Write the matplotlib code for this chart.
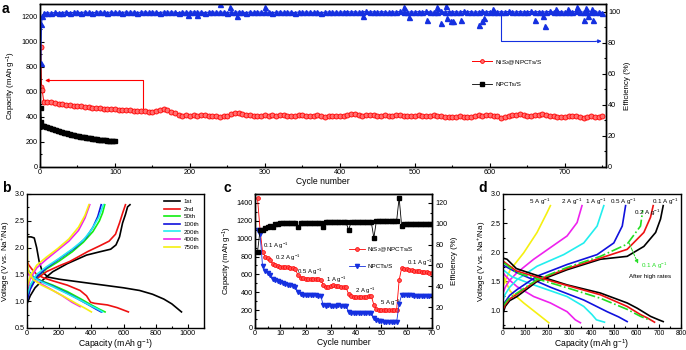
import numpy as np
import matplotlib
matplotlib.use("Agg")
import matplotlib.pyplot as plt
from matplotlib.ticker import MultipleLocator

plt.rcParams['font.family'] = ['Liberation Sans', 'DejaVu Sans']
plt.rcParams['mathtext.default'] = 'regular'
plt.rcParams['axes.linewidth'] = 1.0

# ---------------- panel a data ----------------
a_red_first_cyc = [1, 2, 3]
a_red_first_cap = [956, 638, 612]
a_red_cyc = list(range(5, 751, 5))
a_red_cap = [520, 522, 515, 512, 505, 500, 497, 493, 490, 486,
             484, 480, 478, 474, 470, 468, 466, 464, 462, 460,
             458, 455, 457, 452, 450, 448, 446, 444, 440, 442,
             448, 456, 462, 452, 440, 428, 415, 408, 412, 410,
             414, 408, 412, 418, 410, 405, 408, 400, 406, 410,
             420, 428, 432, 426, 418, 412, 408, 405, 410, 412,
             410, 414, 408, 412, 416, 410, 406, 410, 414, 412,
             408, 404, 410, 412, 406, 402, 408, 410, 404, 406,
             410, 418, 424, 420, 414, 410, 412, 416, 412, 408,
             410, 414, 410, 406, 412, 415, 410, 408, 404, 410,
             412, 408, 404, 410, 414, 410, 406, 402, 398, 396,
             400, 404, 400, 396, 402, 408, 412, 410, 416, 414,
             410, 406, 392, 400, 408, 412, 416, 420, 414, 410,
             408, 412, 418, 420, 416, 410, 406, 402, 396, 400,
             404, 410, 406, 398, 394, 400, 406, 402, 398, 404]

a_blk_cyc = [1, 2, 3, 4] + list(range(6, 101, 2))
a_blk_cap = [470, 360, 330, 328,
             325, 322, 318, 314, 310, 306, 302, 298, 294, 290,
             286, 282, 278, 275, 271, 268, 265, 262, 259, 256,
             253, 250, 248, 245, 243, 240, 238, 236, 234, 232,
             230, 228, 226, 224, 222, 221, 219, 217, 216, 214,
             213, 212, 210, 209, 208, 207, 206, 205]

a_eff_first_cyc = [1, 2, 3]
a_eff_first = [67, 92, 97]
a_eff_cyc = list(range(5, 751, 5))
a_eff = [99.2, 99.4, 99.1, 99.6, 99.3, 99.5, 99.8, 99.4, 99.6, 99.7,
         99.5, 99.8, 99.6, 99.4, 99.7, 99.9, 99.6, 99.5, 99.8, 99.6,
         99.7, 99.5, 99.9, 99.6, 99.8, 99.5, 99.7, 99.9, 99.6, 99.8,
         99.7, 99.5, 99.8, 99.6, 99.9, 99.7, 99.4, 99.8, 99.6, 99.7,
         99.9, 99.6, 99.8, 99.5, 99.7, 99.9, 99.6, 99.8, 99.7, 99.5,
         99.8, 99.6, 99.9, 99.7, 99.5, 99.8, 99.6, 99.9, 99.7, 99.6,
         99.8, 99.5, 99.7, 99.9, 99.6, 99.8, 99.7, 99.5, 99.8, 99.6,
         99.9, 99.7, 99.6, 99.8, 99.5, 99.7, 99.9, 99.6, 99.8, 99.7,
         99.9, 100.1, 99.8, 100.0, 99.7, 99.9, 100.2, 99.8, 100.0, 99.7,
         100.1, 99.9, 99.6, 100.0, 99.8, 100.2, 99.9, 99.7, 100.0, 99.8,
         100.1, 99.8, 100.2, 99.9, 99.7, 100.0, 100.2, 99.8, 100.1, 99.9,
         100.0, 99.8, 100.2, 99.9, 100.1, 99.7, 100.0, 100.2, 99.9, 100.1,
         100.0, 99.8, 100.1, 99.9, 100.2, 100.0, 99.8, 100.1, 99.9, 100.0,
         100.2, 99.9, 100.1, 99.8, 100.0, 100.2, 99.9, 100.1, 100.0, 99.8,
         100.1, 99.9, 100.2, 100.0, 99.8, 100.1, 99.9, 100.0, 99.7, 99.5]
a_eff_out_cyc = [198, 209, 240, 253, 263, 300, 431, 485, 492, 516, 529, 535,
                 542, 543, 548, 551, 562, 585, 590, 592, 604, 660, 671, 673,
                 688, 704, 716, 725, 728, 731, 736, 738]
a_eff_out = [98, 98, 105, 103, 97, 103, 97.5, 103, 96.8, 95, 103, 92.5,
             103.5, 96, 94.2, 94, 94.6, 91.3, 94.2, 95.8, 102, 95, 97, 90.9,
             102, 102, 103, 95, 102.5, 97, 102, 95]

# ---------------- panel b data ----------------
b_labels = ['1st', '2nd', '50th', '100th', '200th', '400th', '750th']
b_colors = ['black', '#ee1111', '#11ee11', '#1111dd', '#22eeee', '#ee22ee', '#f5f011']

b1_dis_q = [0, 25, 45, 60, 75, 95, 130, 200, 300, 450, 600, 700, 780, 850, 900, 960]
b1_dis_v = [2.2, 2.2, 2.18, 2.0, 1.75, 1.55, 1.45, 1.41, 1.37, 1.31, 1.25, 1.2, 1.13, 1.04, 0.95, 0.8]
b1_chg_q = [0, 20, 50, 100, 160, 250, 370, 450, 520, 553, 575, 594, 612, 625, 640]
b1_chg_v = [0.95, 1.1, 1.25, 1.4, 1.55, 1.7, 1.86, 1.92, 1.97, 2.05, 2.2, 2.46, 2.62, 2.76, 2.8]
b2_dis_q = [0, 10, 30, 60, 100, 160, 250, 330, 370, 395, 420, 500, 560, 630]
b2_dis_v = [1.75, 1.68, 1.6, 1.5, 1.44, 1.38, 1.3, 1.2, 1.1, 0.98, 0.96, 0.93, 0.88, 0.8]
b2_chg_q = [0, 20, 60, 120, 200, 265, 380, 450, 510, 550, 575, 595, 612]
b2_chg_v = [1.2, 1.3, 1.42, 1.55, 1.66, 1.74, 1.93, 2.03, 2.12, 2.25, 2.46, 2.65, 2.8]
b50_dis_q = [0, 10, 40, 90, 160, 250, 330, 400, 450, 485]
b50_dis_v = [1.65, 1.55, 1.45, 1.38, 1.3, 1.18, 1.05, 0.93, 0.85, 0.8]
b50_chg_q = [0, 20, 60, 120, 200, 280, 350, 410, 450, 470, 483]
b50_chg_v = [1.05, 1.25, 1.45, 1.6, 1.75, 1.92, 2.1, 2.3, 2.5, 2.65, 2.8]
b100_dis_q = [0, 10, 40, 90, 160, 250, 330, 390, 430, 461]
b100_dis_v = [1.68, 1.56, 1.45, 1.37, 1.28, 1.15, 1.02, 0.92, 0.85, 0.8]
b100_chg_q = [0, 20, 60, 120, 224, 300, 368, 410, 440, 461]
b100_chg_v = [1.0, 1.22, 1.45, 1.62, 1.84, 2.0, 2.19, 2.38, 2.58, 2.8]
b200_dis_q = [0, 10, 40, 90, 160, 250, 330, 400, 440, 470]
b200_dis_v = [1.66, 1.55, 1.44, 1.36, 1.27, 1.14, 1.02, 0.91, 0.85, 0.8]
b200_chg_q = [0, 20, 60, 120, 200, 280, 350, 400, 445, 475]
b200_chg_v = [1.1, 1.3, 1.5, 1.64, 1.8, 1.97, 2.14, 2.33, 2.56, 2.8]
b400_dis_q = [0, 10, 40, 90, 150, 220, 280, 330]
b400_dis_v = [1.62, 1.5, 1.4, 1.32, 1.22, 1.1, 0.98, 0.9]
b400_chg_q = [0, 20, 60, 120, 190, 260, 320, 360, 390]
b400_chg_v = [1.2, 1.42, 1.62, 1.78, 1.95, 2.12, 2.32, 2.55, 2.8]
b750_dis_q = [0, 3, 10, 40, 90, 160, 240, 310, 360, 400]
b750_dis_v = [2.7, 1.7, 1.55, 1.4, 1.3, 1.2, 1.07, 0.95, 0.87, 0.8]
b750_chg_q = [0, 20, 60, 120, 190, 260, 320, 360, 385]
b750_chg_v = [1.25, 1.47, 1.67, 1.82, 1.98, 2.16, 2.38, 2.6, 2.8]

# ---------------- panel c data ----------------
c_cyc = list(range(1, 71))
c_nis2 = [1450, 1100, 850, 800, 780, 760, 720, 700, 692, 688, 685, 680, 678, 675, 670, 655,
          590, 565, 555, 552, 550, 548, 546, 545, 543, 540,
          480, 462, 458, 465, 485, 470, 465, 462, 460, 455,
          380, 362, 352, 350, 350, 350, 352, 352, 354, 356,
          260, 210, 205, 202, 200, 200, 200, 202, 200, 202,
          535, 672, 660, 655, 650, 645, 642, 638, 635, 632, 628, 625, 620, 615]
c_npct = [1100, 1050, 690, 640, 615, 595, 545, 535, 525, 515, 505, 495, 485, 478, 470, 460,
          400, 380, 375, 372, 370, 368, 366, 364, 362, 360,
          255, 250, 252, 250, 251, 250, 252, 250, 251, 250,
          180, 172, 171, 170, 171, 170, 170, 171, 170, 170,
          110, 85, 78, 75, 72, 70, 68, 66, 65, 64,
          270, 372, 368, 366, 365, 364, 363, 362, 362, 361, 361, 360, 360, 360]
c_eff = [73, 94, 94, 95.5, 96.5, 97.5, 97, 100, 100, 100.5, 100.5, 100.5, 100.5, 100.5, 100.5, 100.5,
         96.5, 101, 101, 101, 101, 101, 101, 101, 101, 101,
         96.5, 101.5, 101.5, 101.5, 101.5, 101.5, 101.5, 101.5, 101.5, 101.5,
         94, 101.5, 101.5, 101.5, 101.5, 101.5, 101.5, 101.5, 101.5, 101.5,
         86.5, 102.5, 102.5, 102.5, 102.5, 102.5, 102.5, 102.5, 102.5, 102.5,
         125, 98, 99.5, 100, 100, 100, 100, 100, 100, 100, 100, 100, 100, 100]
c_rate_text = [r'0.1 A g$^{-1}$', r'0.2 A g$^{-1}$', r'0.5 A g$^{-1}$', r'1 A g$^{-1}$',
               r'2 A g$^{-1}$', r'5 A g$^{-1}$', r'0.1 A g$^{-1}$']
c_rate_x = [3, 8, 16.6, 28, 39.5, 49.4, 60.3]
c_rate_y = [920, 780, 632, 542, 418, 282, 733]

# ---------------- panel d data ----------------
d01_chg_q = [0, 10, 30, 63, 153, 288, 438, 558, 633, 686, 708, 720]
d01_chg_v = [0.95, 1.07, 1.17, 1.24, 1.5, 1.7, 1.88, 1.93, 2.1, 2.34, 2.57, 2.8]
d01_dis_q = [0, 18, 60, 138, 288, 438, 558, 603, 663, 700, 720]
d01_dis_v = [1.9, 1.88, 1.72, 1.62, 1.44, 1.3, 1.13, 1.04, 0.9, 0.84, 0.81]
d02_chg_q = [0, 10, 30, 63, 153, 288, 438, 558, 633, 663, 675]
d02_chg_v = [1.01, 1.1, 1.2, 1.28, 1.52, 1.72, 1.9, 2.05, 2.34, 2.6, 2.8]
d02_dis_q = [0, 10, 60, 138, 288, 438, 558, 618, 650, 681]
d02_dis_v = [1.85, 1.82, 1.68, 1.59, 1.43, 1.27, 1.07, 0.93, 0.87, 0.8]
d05_chg_q = [0, 10, 30, 63, 153, 288, 423, 498, 536, 551]
d05_chg_v = [1.07, 1.15, 1.26, 1.36, 1.59, 1.79, 1.96, 2.16, 2.45, 2.8]
d05_dis_q = [0, 10, 63, 213, 363, 468, 520, 558]
d05_dis_v = [1.78, 1.76, 1.65, 1.4, 1.18, 0.98, 0.89, 0.81]
d1_chg_q = [0, 10, 30, 63, 153, 273, 363, 423, 453]
d1_chg_v = [1.18, 1.28, 1.4, 1.53, 1.76, 1.96, 2.16, 2.45, 2.8]
d1_dis_q = [0, 10, 40, 138, 288, 363, 400, 420, 456]
d1_dis_v = [1.7, 1.67, 1.58, 1.44, 1.24, 1.07, 0.93, 0.84, 0.8]
d2_chg_q = [0, 10, 30, 63, 138, 213, 288, 333, 355]
d2_chg_v = [1.3, 1.4, 1.52, 1.65, 1.88, 2.08, 2.28, 2.51, 2.8]
d2_dis_q = [0, 10, 30, 63, 138, 213, 288, 325, 348]
d2_dis_v = [1.65, 1.6, 1.52, 1.41, 1.24, 1.13, 0.98, 0.84, 0.79]
d5_chg_q = [0, 8, 33, 93, 153, 198, 213]
d5_chg_v = [1.41, 1.5, 1.7, 1.99, 2.34, 2.68, 2.8]
d5_dis_q = [0, 8, 33, 93, 153, 206]
d5_dis_v = [1.6, 1.53, 1.33, 1.13, 0.95, 0.79]
dg_chg_q = [0, 10, 30, 63, 153, 288, 438, 558, 618, 628]
dg_chg_v = [1.07, 1.13, 1.22, 1.3, 1.53, 1.74, 1.93, 2.14, 2.45, 2.72]
dg_dis_q = [0, 10, 60, 138, 288, 438, 558, 618, 663]
dg_dis_v = [1.82, 1.8, 1.65, 1.56, 1.39, 1.21, 1.02, 0.9, 0.83]
d_top_text = [r'5 A g$^{-1}$', r'2 A g$^{-1}$', r'1 A g$^{-1}$', r'0.5 A g$^{-1}$', r'0.1 A g$^{-1}$']
d_top_x = [165, 309, 416, 541, 729]

fs_tick = 5.2
fs_lab = 6.2
BLUE = '#1530e0'

fig = plt.figure(figsize=(6.86, 3.5), dpi=100)


def style(ax, right=False):
    ax.tick_params(which='both', direction='in', labelsize=fs_tick, pad=1.5, width=0.8)
    ax.tick_params(which='major', length=3)
    ax.tick_params(which='minor', length=1.6)
    if not right:
        ax.tick_params(right=False, top=False)


# ---------------- a ----------------
ax = fig.add_axes([40 / 686, 1 - 167 / 350, 566 / 686, 163 / 350])
axr = ax.twinx()
ax.plot(a_red_first_cyc + a_red_cyc, a_red_first_cap + a_red_cap, color='red', lw=0.7,
        marker='o', ms=3.6, mfc='#ff7070', mec='red', mew=0.6, label=r'NiS$_2$@NPCTs/S')
ax.plot(a_blk_cyc, a_blk_cap, color='black', lw=0.6, marker='s', ms=3, mfc='black', mec='black',
        label='NPCTs/S')
axr.plot(a_eff_first_cyc + a_eff_cyc, a_eff_first + a_eff, lw=0.8, marker='^', ms=3.6, color=BLUE)
axr.plot(a_eff_out_cyc, a_eff_out, ls='none', marker='^', ms=3.6, color=BLUE)
ax.set_xlim(0, 755)
ax.set_ylim(0, 1300)
axr.set_ylim(0, 105)
ax.xaxis.set_major_locator(MultipleLocator(100))
ax.xaxis.set_minor_locator(MultipleLocator(50))
ax.yaxis.set_major_locator(MultipleLocator(200))
ax.yaxis.set_minor_locator(MultipleLocator(100))
axr.yaxis.set_major_locator(MultipleLocator(20))
axr.yaxis.set_minor_locator(MultipleLocator(10))
style(ax)
style(axr, right=True)
ax.set_xlabel('Cycle number', fontsize=fs_lab, labelpad=1)
ax.set_ylabel(r'Capacity (mAh g$^{-1}$)', fontsize=fs_lab - 0.5, labelpad=3)
axr.set_ylabel('Efficiency (%)', fontsize=fs_lab - 0.5, labelpad=3)
# arrows
ax.plot([137, 137, 12], [469, 690, 690], color='red', lw=0.8)
ax.annotate('', xy=(3, 690), xytext=(14, 690),
            arrowprops=dict(arrowstyle='-|>', color='red', lw=0.8, mutation_scale=5))
axr.plot([615, 615, 740], [99.5, 81, 81], color=BLUE, lw=0.8)
axr.annotate('', xy=(753, 81), xytext=(738, 81),
             arrowprops=dict(arrowstyle='-|>', color=BLUE, lw=0.8, mutation_scale=5))
ax.legend(loc='upper left', bbox_to_anchor=((472 - 40) / 566, 0.67), frameon=False, fontsize=4.6,
          labelspacing=2.3, handlelength=3.1, handletextpad=0.5, borderpad=0, borderaxespad=0,
          markerscale=0.75)

# ---------------- b ----------------
bx = fig.add_axes([27 / 686, 1 - 328 / 350, 177 / 686, 134 / 350])
b_dis_q = [b1_dis_q, b2_dis_q, b50_dis_q, b100_dis_q, b200_dis_q, b400_dis_q, b750_dis_q]
b_dis_v = [b1_dis_v, b2_dis_v, b50_dis_v, b100_dis_v, b200_dis_v, b400_dis_v, b750_dis_v]
b_chg_q = [b1_chg_q, b2_chg_q, b50_chg_q, b100_chg_q, b200_chg_q, b400_chg_q, b750_chg_q]
b_chg_v = [b1_chg_v, b2_chg_v, b50_chg_v, b100_chg_v, b200_chg_v, b400_chg_v, b750_chg_v]
for i in range(len(b_labels)):
    bx.plot(b_dis_q[i], b_dis_v[i], color=b_colors[i], lw=1.2, label=b_labels[i])
    bx.plot(b_chg_q[i], b_chg_v[i], color=b_colors[i], lw=1.2)
bx.set_xlim(0, 1100)
bx.set_ylim(0.5, 3.0)
bx.xaxis.set_major_locator(MultipleLocator(200))
bx.xaxis.set_minor_locator(MultipleLocator(100))
bx.yaxis.set_major_locator(MultipleLocator(0.5))
bx.yaxis.set_minor_locator(MultipleLocator(0.25))
style(bx)
bx.set_xlabel(r'Capacity (mAh g$^{-1}$)', fontsize=fs_lab, labelpad=0.5)
bx.set_ylabel(r'Voltage (V vs. Na$^{+}$/Na)', fontsize=fs_lab - 0.5, labelpad=2)
bx.legend(loc='upper right', frameon=False, fontsize=4.5, handlelength=2.5, labelspacing=0.35,
          handletextpad=0.6, borderaxespad=0.4)

# ---------------- c ----------------
cx = fig.add_axes([255 / 686, 1 - 328 / 350, 177 / 686, 134 / 350])
cxr = cx.twinx()
cx.plot(c_cyc, c_nis2, color='red', lw=0.6, marker='o', ms=2.8, mfc='#ff5050', mec='red', mew=0.5,
        label=r'NiS$_2$@NPCTs/S')
cx.plot(c_cyc, c_npct, color=BLUE, lw=0.6, marker='v', ms=3, label='NPCTs/S')
cxr.plot(c_cyc, c_eff, color='black', lw=0.6, marker='s', ms=2.6)
cx.set_xlim(0, 70)
cx.set_ylim(0, 1500)
cxr.set_ylim(0, 1500 * 120 / 1400)
cx.xaxis.set_major_locator(MultipleLocator(10))
cx.xaxis.set_minor_locator(MultipleLocator(5))
cx.yaxis.set_major_locator(MultipleLocator(200))
cx.yaxis.set_minor_locator(MultipleLocator(100))
cxr.yaxis.set_major_locator(MultipleLocator(20))
cxr.yaxis.set_minor_locator(MultipleLocator(10))
style(cx)
style(cxr, right=True)
cxr.tick_params(axis='y', pad=2.8)
cx.set_xlabel('Cycle number', fontsize=fs_lab, labelpad=0.5)
cx.set_ylabel(r'Capacity (mAh g$^{-1}$)', fontsize=fs_lab - 0.5, labelpad=2)
cxr.set_ylabel('Efficiency (%)', fontsize=fs_lab - 0.5, labelpad=2)
for t, x, y in zip(c_rate_text, c_rate_x, c_rate_y):
    cx.text(x, y, t, fontsize=4.3, ha='left', va='center')
cx.legend(loc='upper left', bbox_to_anchor=(0.5, 0.66), frameon=False, fontsize=4.5,
          labelspacing=1.6, handlelength=2.5, handletextpad=0.4)

# ---------------- d ----------------
dx = fig.add_axes([503 / 686, 1 - 328 / 350, 178 / 686, 134 / 350])
d_curves = [(d5_chg_q, d5_chg_v, d5_dis_q, d5_dis_v, '#f5f011'),
            (d2_chg_q, d2_chg_v, d2_dis_q, d2_dis_v, '#ee22ee'),
            (d1_chg_q, d1_chg_v, d1_dis_q, d1_dis_v, '#22eeee'),
            (d05_chg_q, d05_chg_v, d05_dis_q, d05_dis_v, '#1111dd'),
            (d01_chg_q, d01_chg_v, d01_dis_q, d01_dis_v, 'black'),
            (d02_chg_q, d02_chg_v, d02_dis_q, d02_dis_v, '#ee1111')]
for cq, cv, dq, dv, col in d_curves:
    dx.plot(cq, cv, color=col, lw=1.2)
    dx.plot(dq, dv, color=col, lw=1.2)
dx.plot(dg_chg_q, dg_chg_v, color='#22dd22', lw=1.2, ls='-.')
dx.plot(dg_dis_q, dg_dis_v, color='#22dd22', lw=1.2, ls='-.')
dx.set_xlim(0, 800)
dx.set_ylim(0.7, 3.0)
dx.xaxis.set_major_locator(MultipleLocator(100))
dx.xaxis.set_minor_locator(MultipleLocator(50))
dx.yaxis.set_major_locator(MultipleLocator(0.5))
dx.yaxis.set_minor_locator(MultipleLocator(0.25))
style(dx)
dx.tick_params(axis='x', labelsize=4.9)
dx.set_xlabel(r'Capacity (mAh g$^{-1}$)', fontsize=fs_lab, labelpad=0.5)
dx.set_ylabel(r'Voltage (V vs. Na$^{+}$/Na)', fontsize=fs_lab - 0.5, labelpad=2)
for t, x in zip(d_top_text, d_top_x):
    dx.text(x, 2.87, t, fontsize=4.5, ha='center', va='center')
dx.text(590, 2.67, r'0.2 A g$^{-1}$', fontsize=4.5, ha='left', va='center')
dx.annotate('', xy=(612, 1.76), xytext=(562, 2.2),
            arrowprops=dict(arrowstyle='-|>', color='#22dd22', lw=0.7, ls='--', mutation_scale=5))
dx.text(620, 1.76, r'0.1 A g$^{-1}$', fontsize=4.5, ha='left', va='center', color='#22dd22')
dx.text(565, 1.58, 'After high rates', fontsize=4.5, ha='left', va='center')

# ---------------- panel letters ----------------
fig.text(2 / 686, 1 - 9 / 350, 'a', fontsize=10, fontweight='bold', va='center')
fig.text(2 / 686, 1 - 188 / 350, 'b', fontsize=10, fontweight='bold', va='center')
fig.text(224 / 686, 1 - 188 / 350, 'c', fontsize=10, fontweight='bold', va='center')
fig.text(478 / 686, 1 - 188 / 350, 'd', fontsize=10, fontweight='bold', va='center')

fig.savefig('out.png', dpi=100)
